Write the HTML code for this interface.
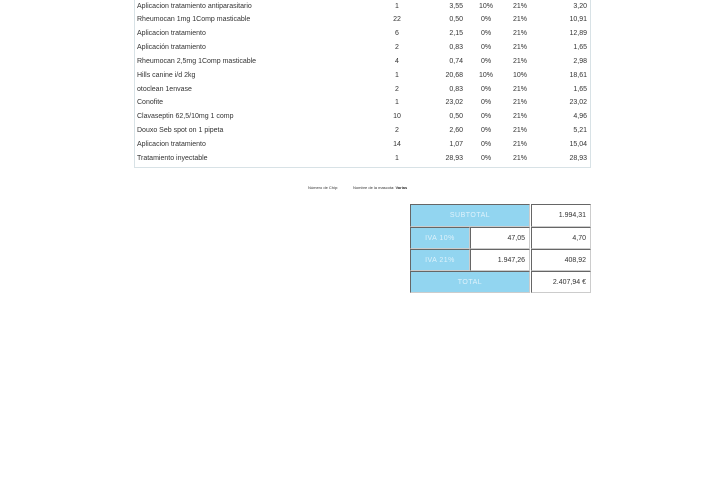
<!DOCTYPE html>
<html><head><meta charset="utf-8"><style>
*{margin:0;padding:0;box-sizing:border-box}
body{width:720px;height:480px;background:#fff;position:relative;overflow:hidden;font-family:"Liberation Sans",sans-serif;font-size:7px;color:#333}
.frame{position:absolute;left:134px;top:-2px;width:457px;height:170px;border:1px solid #d8e2e6;border-top:none}
.t{position:absolute;white-space:nowrap;line-height:8px}
.b{position:absolute;border:1px solid #666;border-bottom-color:#ccc;border-right-color:#ccc;font-size:7px;display:flex;align-items:center}
.blue{background:#92d5f0;color:#dff2fb;justify-content:center;letter-spacing:0.5px}
.w{background:#fff;justify-content:flex-end;padding-right:4px;color:#333}
</style></head><body>
<div class="frame"></div>
<div id="rows"></div>
<script>
var d=[["Aplicacion tratamiento antiparasitario","1","3,55","10%","21%","3,20"],
["Rheumocan 1mg 1Comp masticable","22","0,50","0%","21%","10,91"],
["Aplicacion tratamiento","6","2,15","0%","21%","12,89"],
["Aplicación tratamiento","2","0,83","0%","21%","1,65"],
["Rheumocan 2,5mg 1Comp masticable","4","0,74","0%","21%","2,98"],
["Hills canine i/d 2kg","1","20,68","10%","10%","18,61"],
["otoclean 1envase","2","0,83","0%","21%","1,65"],
["Conofite","1","23,02","0%","21%","23,02"],
["Clavaseptin 62,5/10mg 1 comp","10","0,50","0%","21%","4,96"],
["Douxo Seb spot on 1 pipeta","2","2,60","0%","21%","5,21"],
["Aplicacion tratamiento","14","1,07","0%","21%","15,04"],
["Tratamiento inyectable","1","28,93","0%","21%","28,93"]];
var h="";
d.forEach(function(r,i){var y=2.5+i*13.85;
h+='<div class="t" style="left:137px;top:'+y+'px">'+r[0]+'</div>';
h+='<div class="t" style="left:387px;width:20px;text-align:center;top:'+y+'px">'+r[1]+'</div>';
h+='<div class="t" style="left:430px;width:33px;text-align:right;top:'+y+'px">'+r[2]+'</div>';
h+='<div class="t" style="left:476px;width:20px;text-align:center;top:'+y+'px">'+r[3]+'</div>';
h+='<div class="t" style="left:510px;width:20px;text-align:center;top:'+y+'px">'+r[4]+'</div>';
h+='<div class="t" style="left:550px;width:37px;text-align:right;top:'+y+'px">'+r[5]+'</div>';});
document.getElementById("rows").innerHTML=h;
</script>
<div class="t" style="left:308px;top:184px;font-size:4px">Número de Chip:</div>
<div class="t" style="left:353px;top:184px;font-size:4px">Nombre de la mascota: <b>Varias</b></div>
<div class="b blue" style="left:410px;top:204px;width:120px;height:23px">SUBTOTAL</div>
<div class="b w" style="left:531px;top:204px;width:60px;height:23px">1.994,31</div>
<div class="b blue" style="left:410px;top:227px;width:60px;height:22px">IVA 10%</div>
<div class="b w" style="left:470px;top:227px;width:60px;height:22px">47,05</div>
<div class="b w" style="left:531px;top:227px;width:60px;height:22px">4,70</div>
<div class="b blue" style="left:410px;top:249px;width:60px;height:22px">IVA 21%</div>
<div class="b w" style="left:470px;top:249px;width:60px;height:22px">1.947,26</div>
<div class="b w" style="left:531px;top:249px;width:60px;height:22px">408,92</div>
<div class="b blue" style="left:410px;top:271px;width:120px;height:22px">TOTAL</div>
<div class="b w" style="left:531px;top:271px;width:60px;height:22px">2.407,94 €</div>
</body></html>
